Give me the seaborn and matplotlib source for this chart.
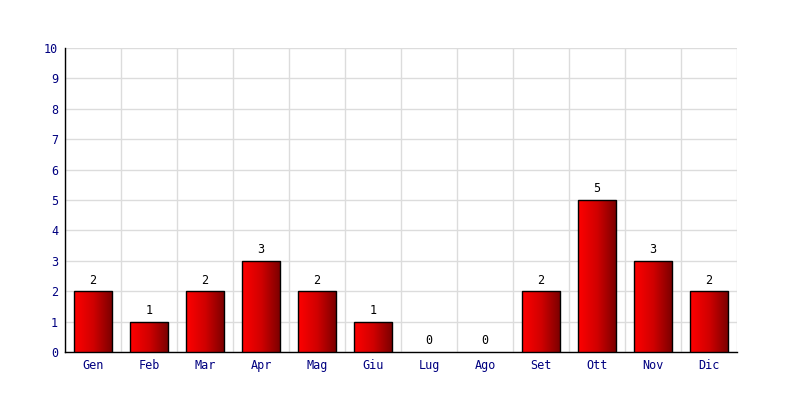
import numpy as np
import pandas as pd
import seaborn as sns
import matplotlib.pyplot as plt
from matplotlib.colors import LinearSegmentedColormap

mesi = ['Gen', 'Feb', 'Mar', 'Apr', 'Mag', 'Giu', 'Lug', 'Ago', 'Set', 'Ott', 'Nov', 'Dic']
valori = [2, 1, 2, 3, 2, 1, 0, 0, 2, 5, 3, 2]

df = pd.DataFrame({'mese': mesi, 'valore': valori})

sns.set_style('white')
plt.rcParams['font.family'] = ['DejaVu Sans Mono']

fig = plt.figure(figsize=(8, 4), dpi=100)
ax = fig.add_axes([0.08125, 0.12, 0.84, 0.76])

sns.barplot(data=df, x='mese', y='valore', color='red', width=0.68,
            edgecolor='black', linewidth=1, ax=ax, zorder=3)

# gradient fill inside each bar
cmap = LinearSegmentedColormap.from_list('rosso', ['#ff0000', '#d00000', '#780000'])
grad = np.linspace(0, 1, 256).reshape(1, -1)
for p in ax.patches:
    h = p.get_height()
    if h <= 0:
        p.set_linewidth(0)
        continue
    x0 = p.get_x()
    w = p.get_width()
    im = ax.imshow(grad, cmap=cmap, aspect='auto', extent=[x0, x0 + w, 0, h],
                   zorder=3.5, interpolation='bicubic')
    im.set_clip_path(p)
    p.set_facecolor('none')
    p.set_zorder(4)

for i, v in enumerate(valori):
    ax.text(i, v + 0.15, str(v), ha='center', va='bottom', fontsize=8.5, color='black')

ax.set_xlim(-0.5, 11.5)
ax.set_ylim(0, 10)
ax.set_yticks(range(0, 11))
ax.set_xticks(np.arange(-0.5, 12, 1), minor=True)
ax.grid(axis='y', which='major', color='#dcdcdc', linewidth=1, zorder=0)
ax.grid(axis='x', which='minor', color='#dcdcdc', linewidth=1, zorder=0)
ax.grid(axis='x', which='major', visible=False)
ax.set_axisbelow(True)
ax.tick_params(axis='both', which='both', length=0, labelsize=8.5, colors='#000080', pad=5)
ax.set_xlabel('')
ax.set_ylabel('')
for s in ['top', 'right']:
    ax.spines[s].set_visible(False)
for s in ['left', 'bottom']:
    ax.spines[s].set_color('black')
    ax.spines[s].set_linewidth(1)

fig.savefig('out.png', dpi=100, facecolor='white')
